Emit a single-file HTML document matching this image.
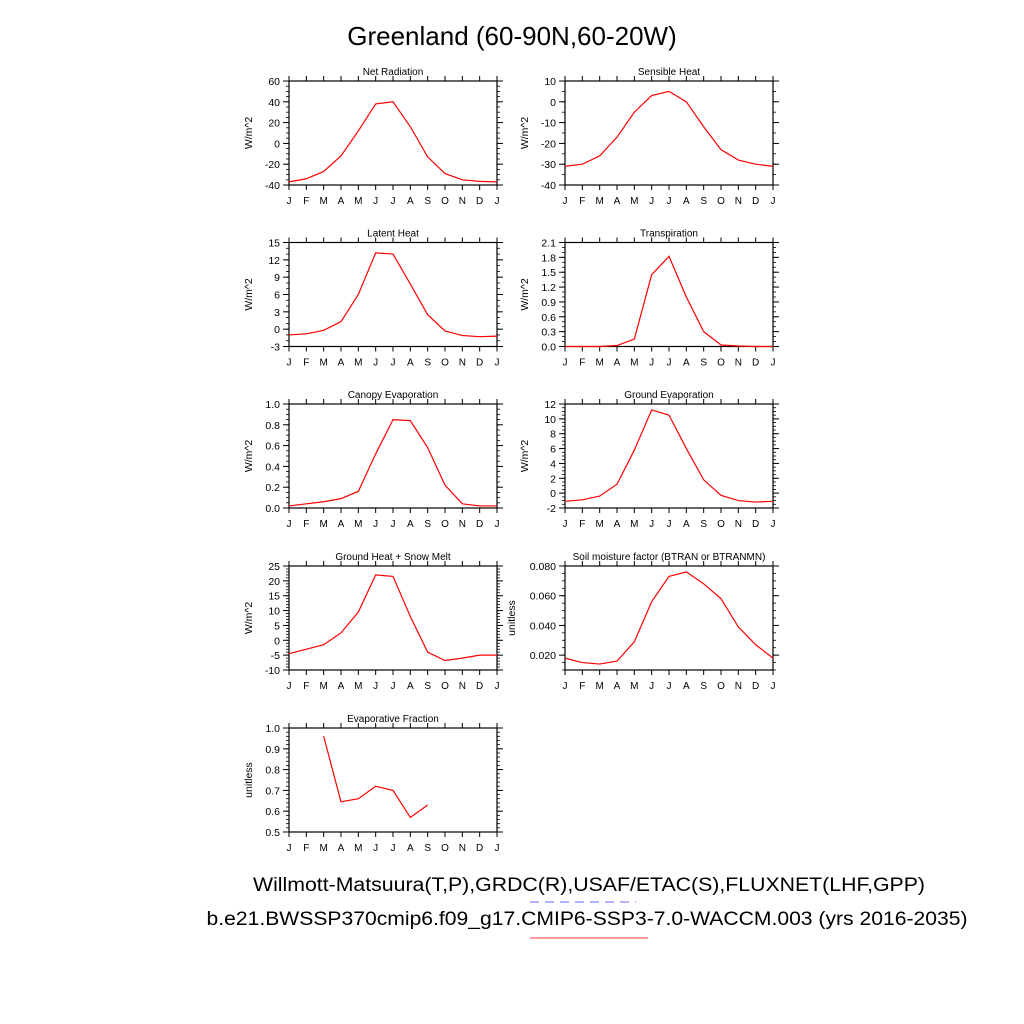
<!DOCTYPE html>
<html><head><meta charset="utf-8">
<style>
html,body{margin:0;padding:0;background:#fff;}
svg{display:block;font-family:"Liberation Sans",sans-serif;}
</style></head>
<body>
<svg id="fig" width="1024" height="1024" viewBox="0 0 1024 1024">
<text x="512" y="45" font-size="26" text-anchor="middle">Greenland (60-90N,60-20W)</text>
<text x="589" y="891" font-size="19" text-anchor="middle" textLength="672" lengthAdjust="spacingAndGlyphs">Willmott-Matsuura(T,P),GRDC(R),USAF/ETAC(S),FLUXNET(LHF,GPP)</text>
<line x1="530" y1="902" x2="636" y2="902" stroke="#9999ff" stroke-width="1.5" stroke-dasharray="9,6"/>
<text x="587" y="925" font-size="19" text-anchor="middle" textLength="761" lengthAdjust="spacingAndGlyphs">b.e21.BWSSP370cmip6.f09_g17.CMIP6-SSP3-7.0-WACCM.003 (yrs 2016-2035)</text>
<line x1="530" y1="938" x2="648" y2="938" stroke="#ff9999" stroke-width="2"/>
</svg>
<script>
const months = ["J","F","M","A","M","J","J","A","S","O","N","D","J"];
const netRad = [-37,-34,-27,-12,12,38,40,16,-13,-29,-35,-36.5,-37];
const sensible = [-31,-30,-26,-17,-5,3,5,0,-12,-23,-28,-30,-31];
const latent = [-1,-0.8,-0.2,1.3,6,13.2,13,7.8,2.5,-0.3,-1.1,-1.3,-1.2];
const transp = [0,0,0,0.02,0.15,1.45,1.82,1.0,0.3,0.03,0.01,0,0];
const canopy = [0.02,0.04,0.06,0.09,0.16,0.52,0.85,0.84,0.58,0.22,0.04,0.02,0.02];
const groundEvap = [-1.1,-0.9,-0.4,1.2,5.8,11.2,10.5,6,1.8,-0.3,-1,-1.2,-1.1];
const groundHeat = [-4.5,-3,-1.5,2.5,9.5,22,21.5,8,-4,-6.8,-6,-5,-5];
const soil = [0.018,0.015,0.014,0.016,0.029,0.056,0.073,0.076,0.068,0.058,0.039,0.027,0.018];
const evapFrac = [null,null,0.96,0.645,0.66,0.72,0.70,0.57,0.63,null,null,null,null];
const ticksNet = ["-40","-20","0","20","40","60"];
const ticksSens = ["-40","-30","-20","-10","0","10"];
const ticksLat = ["-3","0","3","6","9","12","15"];
const ticksTr = ["0.0","0.3","0.6","0.9","1.2","1.5","1.8","2.1"];
const ticksCan = ["0.0","0.2","0.4","0.6","0.8","1.0"];
const ticksGE = ["-2","0","2","4","6","8","10","12"];
const ticksGH = ["-10","-5","0","5","10","15","20","25"];
const ticksSoil = ["0.020","0.040","0.060","0.080"];
const ticksEF = ["0.5","0.6","0.7","0.8","0.9","1.0"];

const NS="http://www.w3.org/2000/svg";
const svg=document.getElementById('fig');
function mk(tag,attrs,parent){const e=document.createElementNS(NS,tag);for(const k in attrs)e.setAttribute(k,attrs[k]);(parent||svg).appendChild(e);return e;}

function panel(key,title,ylabel,x0,y0,ymin,ymax,ticks,minorN,data){
  const W=208,H=104;
  const g=mk('g',{});
  
  
  const xs=i=>x0+i*W/12;
  const ys=v=>y0+H-(v-ymin)/(ymax-ymin)*H;
  // ticks x
  for(let i=0;i<13;i++){
    const X=xs(i);
    mk('line',{x1:X,y1:y0+H,x2:X,y2:y0+H+5,stroke:'#000','stroke-width':1},g);
    mk('line',{x1:X,y1:y0,x2:X,y2:y0-5,stroke:'#000','stroke-width':1},g);
    const t=mk('text',{x:X,y:y0+H+19,'font-size':10,'text-anchor':'middle'},g);
    t.textContent=months[i];
    
    
  }
  // y ticks
  const vals=ticks.map(Number);
  const step=vals.length>1?vals[1]-vals[0]:1;
  for(let v=vals[0]-step;v<=ymax+1e-9;v+=step/minorN){
    if(v<ymin-1e-9)continue;
    const Y=ys(v);
    mk('line',{x1:x0,y1:Y,x2:x0-3,y2:Y,stroke:'#000','stroke-width':0.8},g);
    mk('line',{x1:x0+W,y1:Y,x2:x0+W+3,y2:Y,stroke:'#000','stroke-width':0.8},g);
  }
  ticks.forEach(s=>{
    const v=Number(s),Y=ys(v);
    mk('line',{x1:x0,y1:Y,x2:x0-6,y2:Y,stroke:'#000','stroke-width':1},g);
    mk('line',{x1:x0+W,y1:Y,x2:x0+W+6,y2:Y,stroke:'#000','stroke-width':1},g);
    const t=mk('text',{x:x0-9,y:Y+4,'font-size':10.5,'text-anchor':'end'},g);
    t.textContent=s;
    
    
  });
  const b=mk('rect',{x:x0,y:y0,width:W,height:H,fill:'none',stroke:'#000','stroke-width':1.2},g);
  
  
  const tt=mk('text',{x:x0+W/2,y:y0-6,'font-size':10,'text-anchor':'middle'},g);
  tt.textContent=title;
  
  
  const lx=x0-(key==='soil-moisture'?50:37);
  const yl=mk('text',{x:lx,y:y0+H/2,'font-size':10.5,'text-anchor':'middle',transform:'rotate(-90 '+lx+' '+(y0+H/2)+')'},g);
  yl.textContent=ylabel;
  
  
  let d='',pen=false;
  data.forEach((v,i)=>{
    if(v===null){pen=false;return;}
    d+=(pen?'L':'M')+xs(i).toFixed(2)+' '+ys(v).toFixed(2)+' ';pen=true;
  });
  const p=mk('path',{d:d,fill:'none',stroke:'#ff0000','stroke-width':1.2},g);
  
  
}
const L=289,R=565;
panel('net-radiation','Net Radiation','W/m^2',L,81,-40,60,ticksNet,4,netRad);
panel('sensible-heat','Sensible Heat','W/m^2',R,81,-40,10,ticksSens,2,sensible);
panel('latent-heat','Latent Heat','W/m^2',L,242.5,-3,15,ticksLat,3,latent);
panel('transpiration','Transpiration','W/m^2',R,242.5,0,2.1,ticksTr,3,transp);
panel('canopy-evaporation','Canopy Evaporation','W/m^2',L,404,0,1.0,ticksCan,4,canopy);
panel('ground-evaporation','Ground Evaporation','W/m^2',R,404,-2,12,ticksGE,4,groundEvap);
panel('ground-heat','Ground Heat + Snow Melt','W/m^2',L,566,-10,25,ticksGH,5,groundHeat);
panel('soil-moisture','Soil moisture factor (BTRAN or BTRANMN)','unitless',R,566,0.01,0.08,ticksSoil,4,soil);
panel('evaporative-fraction','Evaporative Fraction','unitless',L,728,0.5,1.0,ticksEF,5,evapFrac);
</script>
</body></html>
